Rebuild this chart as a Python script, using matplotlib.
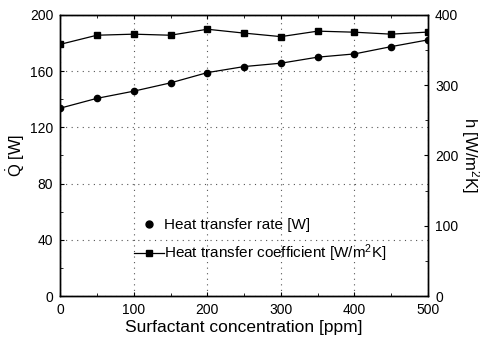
import numpy as np
import matplotlib
matplotlib.use("Agg")
from matplotlib import pyplot as plt
from matplotlib.lines import Line2D
from matplotlib.ticker import MultipleLocator

plt.rcParams.update({'font.family': ['Liberation Sans', 'DejaVu Sans'],
                     'mathtext.fontset': 'custom',
                     'mathtext.rm': 'Liberation Sans',
                     'mathtext.it': 'Liberation Sans',
                     'font.size': 10})

# surfactant concentration [ppm]
conc = [0, 50, 100, 150, 200, 250, 300, 350, 400, 450, 500]
# heat transfer rate [W]
q_rate = [133.6, 140.6, 145.7, 151.6, 158.9, 163.2, 165.6, 169.9, 172.2, 177.4, 182.2]
# heat transfer coefficient [W/m2K]
h_coef = [358, 371, 372.5, 371, 379.5, 374, 369, 376.8, 375.3, 372.5, 375.5]

fig = plt.figure(figsize=(4.81, 3.45), dpi=100)
ax = fig.add_axes([0.125, 0.142, 0.765, 0.815])
ax2 = ax.twinx()

ax.plot(conc, q_rate, color='black', lw=0.9, marker='o', ms=4.5)
ax2.plot(conc, h_coef, color='black', lw=0.9, marker='s', ms=4.5)

ax.set_xlim(0, 500)
ax.set_ylim(0, 200)
ax2.set_ylim(0, 400)

ax.xaxis.set_major_locator(MultipleLocator(100))
ax.xaxis.set_minor_locator(MultipleLocator(50))
ax.yaxis.set_major_locator(MultipleLocator(40))
ax.yaxis.set_minor_locator(MultipleLocator(20))
ax2.yaxis.set_major_locator(MultipleLocator(100))
ax2.yaxis.set_minor_locator(MultipleLocator(50))

ax.grid(True, which='major', ls=(0, (1, 4)), color='#555555', lw=0.8)
for a in (ax, ax2):
    a.tick_params(direction='in', which='major', length=3, width=0.8,
                  labelsize=10, pad=5)
    a.tick_params(direction='in', which='minor', length=2, width=0.6)
    for s in a.spines.values():
        s.set_linewidth(1.0)
ax.tick_params(top=True, which='both')

ax.set_xlabel("Surfactant concentration [ppm]", fontsize=12.5, labelpad=2)
ax.set_ylabel(r"$\dot{\rm Q}$ [W]", fontsize=12, labelpad=2)
ax2.set_ylabel(r"h [W/m$^2$K]", fontsize=12, rotation=270, labelpad=17)

handles = [Line2D([], [], color='black', ls='none', marker='o', ms=5),
           Line2D([], [], color='black', lw=0.9, marker='s', ms=4.5)]
labels = ["Heat transfer rate [W]", r"Heat transfer coefficient [W/m$^2$K]"]
ax2.legend(handles, labels, loc='lower left', bbox_to_anchor=(0.175, 0.08),
           frameon=False, fontsize=11, handlelength=2.0, handletextpad=0.0,
           labelspacing=0.7, borderaxespad=0.2)

fig.savefig("out.png", dpi=100)
